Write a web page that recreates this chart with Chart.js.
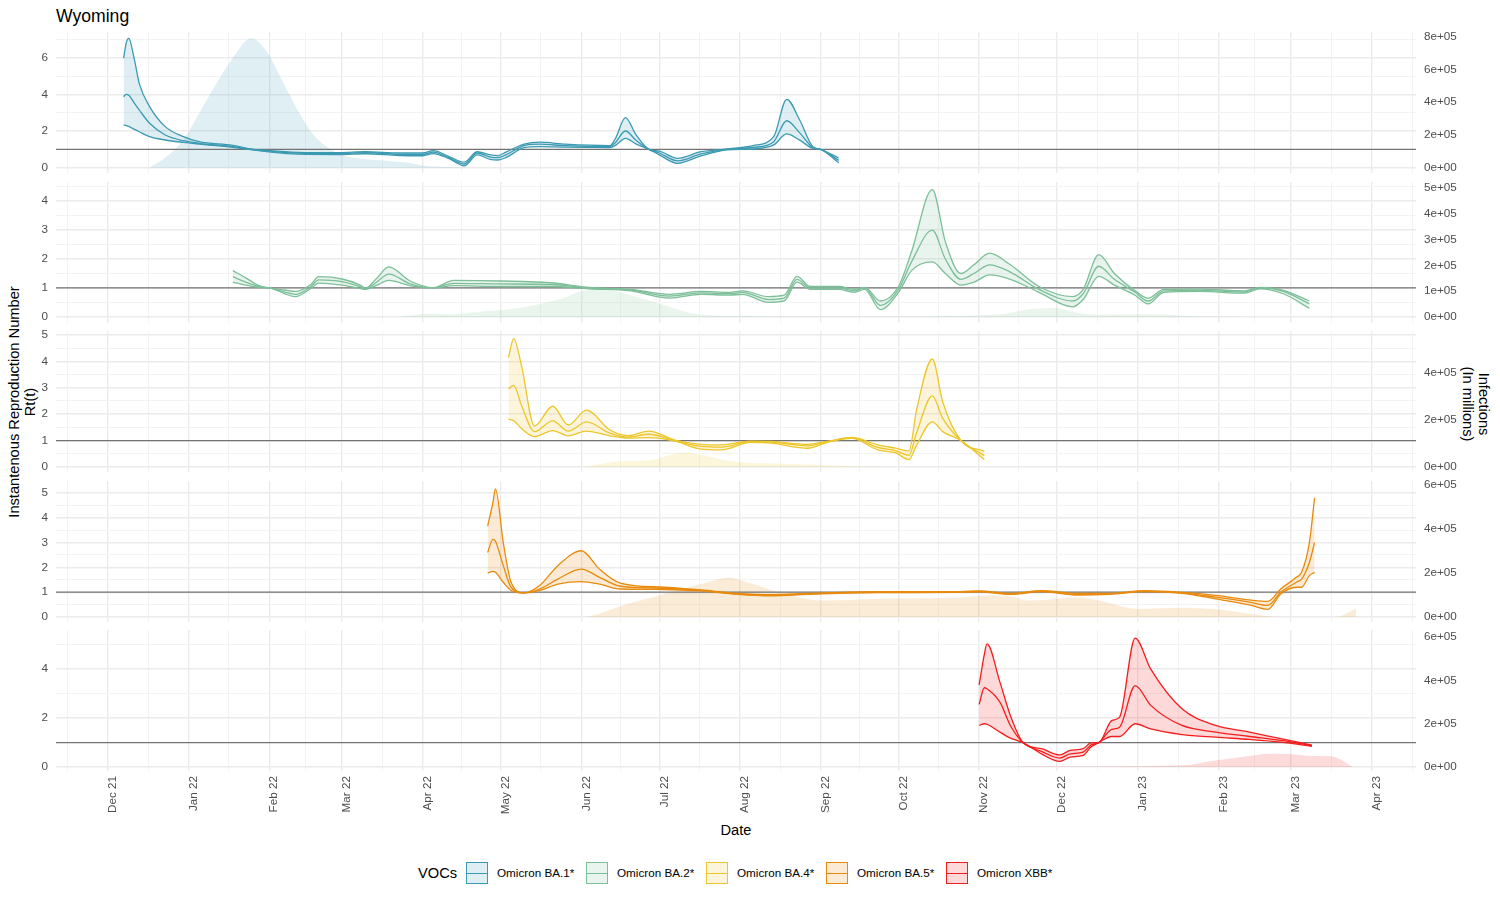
<!DOCTYPE html>
<html><head><meta charset="utf-8">
<script src="https://cdn.jsdelivr.net/npm/chart.js@4.4.0/dist/chart.umd.min.js"></script>
<style>
body{margin:0;background:#fff;}
#wrap{position:relative;width:1500px;height:900px;overflow:hidden;background:#fff;font-family:"Liberation Sans",Arial,Helvetica,sans-serif;color:#000;}
.abs{position:absolute;white-space:nowrap;}
</style></head><body>
<div id="wrap">
  <div class="abs" style="left:56px;top:6px;font-size:17.6px;">Wyoming</div>
  <div class="abs" style="left:22px;top:402px;transform:translate(-50%,-50%) rotate(-90deg);text-align:center;font-size:14.67px;line-height:16px;">Instantenous Reproduction Number<br>Rt(t)</div>
  <div class="abs" style="left:1476px;top:404px;transform:translate(-50%,-50%) rotate(90deg);text-align:center;font-size:14.67px;line-height:16px;">Infections<br>(In millions)</div>
  <div class="abs" style="left:736px;top:830px;transform:translate(-50%,-50%);font-size:14.67px;">Date</div>
  <div id="legend"></div>
</div>
<script>
// ---------- tick labels ----------
const tickDates = ["2021-12-01","2022-01-01","2022-02-01","2022-03-01","2022-04-01","2022-05-01","2022-06-01","2022-07-01","2022-08-01","2022-09-01","2022-10-01","2022-11-01","2022-12-01","2023-01-01","2023-02-01","2023-03-01","2023-04-01"];
const tickLabels = ["Dec 21","Jan 22","Feb 22","Mar 22","Apr 22","May 22","Jun 22","Jul 22","Aug 22","Sep 22","Oct 22","Nov 22","Dec 22","Jan 23","Feb 23","Mar 23","Apr 23"];
const xStartDate = "2021-11-11", xEndDate = "2023-04-18";
const variantNames = ["Omicron BA.1*","Omicron BA.2*","Omicron BA.4*","Omicron BA.5*","Omicron XBB*"];

// ---------- Omicron BA.1 ----------
const ba1Dates = ["2021-12-07","2021-12-08","2021-12-09","2021-12-11","2021-12-13","2021-12-17","2021-12-23","2021-12-30","2022-01-05","2022-01-18","2022-01-24","2022-02-01","2022-02-12","2022-02-28","2022-03-10","2022-03-23","2022-04-01","2022-04-05","2022-04-11","2022-04-17","2022-04-22","2022-04-27","2022-04-30","2022-05-03","2022-05-10","2022-05-16","2022-05-26","2022-06-12","2022-06-14","2022-06-18","2022-06-22","2022-06-27","2022-07-01","2022-07-08","2022-07-17","2022-07-27","2022-08-06","2022-08-14","2022-08-19","2022-08-24","2022-08-29","2022-09-01","2022-09-08"];
const ba1Lower  = [2.33,2.3,2.25,2.1,1.96,1.69,1.51,1.38,1.29,1.11,1.0,0.86,0.74,0.72,0.76,0.66,0.65,0.77,0.5,0.1,0.7,0.45,0.42,0.55,1.09,1.15,1.12,1.1,1.2,1.6,1.3,1.0,0.7,0.24,0.64,0.97,1.02,1.24,1.84,1.5,1.06,1.0,0.27];
const ba1Median = [3.87,4.0,3.95,3.55,3.15,2.42,1.78,1.47,1.33,1.15,1.02,0.9,0.79,0.77,0.82,0.73,0.72,0.85,0.55,0.2,0.8,0.58,0.55,0.7,1.2,1.28,1.2,1.15,1.35,2.0,1.5,1.0,0.8,0.37,0.75,1.0,1.1,1.42,2.56,1.9,1.1,1.0,0.4];
const ba1Upper  = [5.97,6.8,7.05,6.0,4.6,3.33,2.24,1.69,1.42,1.22,1.04,0.93,0.84,0.82,0.87,0.8,0.8,0.93,0.62,0.3,0.87,0.7,0.66,0.85,1.29,1.39,1.28,1.2,1.55,2.73,1.8,1.0,0.9,0.51,0.87,1.02,1.2,1.69,3.73,2.6,1.15,1.0,0.53];
const ba1InfDates = ["2021-12-17","2021-12-23","2021-12-30","2022-01-05","2022-01-11","2022-01-18","2022-01-25","2022-01-31","2022-02-06","2022-02-12","2022-02-18","2022-02-25","2022-03-04","2022-03-16","2022-03-27","2022-04-01","2022-04-08","2022-04-15","2022-04-21"];
const ba1Infections = [0,60000,170000,330000,495000,670000,790000,710000,530000,350000,200000,110000,65000,45000,28000,14000,5000,2000,0];

// ---------- Omicron BA.2 ----------
const ba2Dates = ["2022-01-18","2022-01-23","2022-01-28","2022-02-01","2022-02-07","2022-02-11","2022-02-17","2022-02-20","2022-03-01","2022-03-08","2022-03-10","2022-03-14","2022-03-19","2022-03-27","2022-04-05","2022-04-13","2022-05-01","2022-05-20","2022-06-04","2022-06-20","2022-07-05","2022-07-17","2022-07-28","2022-08-02","2022-08-12","2022-08-18","2022-08-23","2022-08-28","2022-09-08","2022-09-14","2022-09-18","2022-09-24","2022-10-01","2022-10-06","2022-10-14","2022-10-19","2022-10-25","2022-10-30","2022-11-05","2022-11-13","2022-11-24","2022-12-07","2022-12-11","2022-12-17","2022-12-23","2022-12-31","2023-01-05","2023-01-11","2023-01-25","2023-02-11","2023-02-17","2023-02-26","2023-03-08"];
const ba2Lower  = [1.2,1.1,1.02,1.0,0.8,0.7,0.98,1.17,1.1,0.98,0.95,1.08,1.26,1.08,1.0,1.08,1.05,1.05,0.97,0.9,0.65,0.78,0.75,0.78,0.5,0.55,1.2,0.95,0.95,0.85,0.95,0.25,0.85,1.6,1.9,1.5,1.1,1.2,1.45,1.3,0.85,0.35,0.6,1.4,1.1,0.75,0.45,0.85,0.88,0.82,0.97,0.8,0.3];
const ba2Median = [1.39,1.2,1.05,1.0,0.86,0.78,1.05,1.28,1.22,1.04,0.97,1.18,1.48,1.15,1.0,1.16,1.14,1.12,1.0,0.93,0.72,0.83,0.8,0.85,0.6,0.65,1.3,1.0,1.0,0.9,1.0,0.4,0.95,1.9,3.0,2.0,1.3,1.5,1.8,1.55,0.95,0.55,0.8,1.75,1.3,0.85,0.55,0.9,0.92,0.86,1.0,0.88,0.45];
const ba2Upper  = [1.6,1.35,1.08,1.0,0.93,0.88,1.12,1.39,1.31,1.1,0.99,1.3,1.73,1.25,1.01,1.26,1.24,1.18,1.02,0.95,0.78,0.88,0.85,0.9,0.7,0.75,1.4,1.05,1.05,0.95,1.02,0.55,1.05,2.25,4.4,2.6,1.5,1.8,2.2,1.8,1.05,0.7,0.95,2.15,1.5,0.9,0.65,0.95,0.96,0.9,1.02,0.92,0.55];
const ba2InfDates = ["2022-03-23","2022-04-04","2022-04-11","2022-04-23","2022-05-08","2022-05-24","2022-06-04","2022-06-14","2022-06-23","2022-07-03","2022-07-13","2022-07-25","2022-10-01","2022-11-09","2022-11-20","2022-12-01","2022-12-07","2022-12-17","2023-01-05","2023-01-25","2023-02-13"];
const ba2Infections = [0,12000,10000,20000,35000,70000,105000,100000,75000,45000,15000,5000,2000,10000,30000,35000,20000,8000,10000,2000,0];

// ---------- Omicron BA.4 ----------
const ba4Dates = ["2022-05-04","2022-05-06","2022-05-09","2022-05-14","2022-05-21","2022-05-27","2022-06-03","2022-06-12","2022-06-19","2022-06-27","2022-07-07","2022-07-17","2022-07-25","2022-08-05","2022-08-13","2022-08-27","2022-09-04","2022-09-13","2022-09-23","2022-09-30","2022-10-05","2022-10-08","2022-10-14","2022-10-18","2022-10-25","2022-11-03"];
const ba4Lower  = [1.81,1.75,1.46,1.15,1.38,1.18,1.36,1.18,1.09,1.11,0.98,0.68,0.65,0.93,0.9,0.71,0.94,1.08,0.65,0.53,0.28,0.84,1.71,1.34,1.0,0.28];
const ba4Median = [2.96,3.09,2.34,1.34,1.75,1.36,1.71,1.28,1.13,1.24,1.0,0.78,0.75,0.96,0.94,0.8,0.96,1.1,0.74,0.61,0.44,1.31,2.69,1.84,1.0,0.43];
const ba4Upper  = [4.15,4.86,3.84,1.55,2.3,1.59,2.15,1.4,1.19,1.36,1.02,0.86,0.84,0.98,0.97,0.86,0.98,1.12,0.84,0.71,0.61,2.19,4.09,2.46,1.0,0.59];
const ba4InfDates = ["2022-06-02","2022-06-16","2022-06-24","2022-06-30","2022-07-05","2022-07-11","2022-07-17","2022-07-24","2022-07-31","2022-08-13","2022-08-27","2022-09-09","2022-09-23","2022-10-05"];
const ba4Infections = [0,24000,27000,34000,52000,62000,52000,34000,21000,15000,11000,4000,1000,0];

// ---------- Omicron BA.5 ----------
const ba5Dates = ["2022-04-26","2022-04-28","2022-04-29","2022-05-02","2022-05-05","2022-05-10","2022-05-16","2022-05-23","2022-06-01","2022-06-08","2022-06-16","2022-07-03","2022-07-17","2022-07-31","2022-08-13","2022-08-27","2022-09-23","2022-10-21","2022-11-01","2022-11-13","2022-11-25","2022-12-09","2022-12-21","2023-01-04","2023-01-18","2023-01-31","2023-02-13","2023-02-20","2023-02-25","2023-03-03","2023-03-05","2023-03-08","2023-03-10"];
const ba5Lower  = [1.77,1.84,1.8,1.4,1.07,0.97,1.07,1.33,1.43,1.33,1.13,1.11,1.05,0.91,0.85,0.91,0.98,0.99,1.01,0.91,1.02,0.88,0.91,1.02,0.95,0.73,0.49,0.31,0.93,1.2,1.2,1.67,1.8];
const ba5Median = [2.6,3.13,3.05,2.07,1.2,0.97,1.13,1.53,1.93,1.6,1.24,1.16,1.07,0.93,0.87,0.93,1.0,1.0,1.03,0.93,1.04,0.91,0.93,1.04,0.97,0.8,0.6,0.47,1.0,1.4,1.53,2.2,3.0];
const ba5Upper  = [3.67,4.6,5.16,3.0,1.4,0.97,1.27,2.07,2.67,1.93,1.37,1.2,1.09,0.95,0.9,0.95,1.02,1.02,1.05,0.95,1.06,0.95,0.95,1.06,0.99,0.87,0.69,0.63,1.13,1.6,1.8,3.0,4.8];
const ba5InfDates = ["2022-06-02","2022-06-05","2022-06-19","2022-07-03","2022-07-17","2022-07-28","2022-08-02","2022-08-10","2022-08-20","2022-09-03","2022-09-23","2022-10-21","2022-11-06","2022-11-15","2022-11-19","2022-11-28","2022-12-09","2022-12-17","2023-01-01","2023-01-18","2023-01-31","2023-02-13","2023-02-25","2023-03-18","2023-03-22","2023-03-26"];
const ba5Infections = [0,5000,60000,105000,150000,180000,165000,135000,98000,75000,83000,86000,98000,90000,75000,80000,90000,75000,37000,42000,35000,15000,0,0,15000,40000];

// ---------- Omicron XBB ----------
const xbbDates = ["2022-11-01","2022-11-03","2022-11-04","2022-11-09","2022-11-13","2022-11-18","2022-11-25","2022-12-02","2022-12-06","2022-12-11","2022-12-14","2022-12-17","2022-12-22","2022-12-25","2022-12-31","2023-01-06","2023-01-18","2023-01-31","2023-02-13","2023-02-25","2023-03-09"];
const xbbLower  = [1.7,1.77,1.75,1.43,1.18,0.99,0.54,0.23,0.41,0.48,0.82,1.0,1.25,1.25,1.77,1.56,1.33,1.22,1.13,1.02,0.85];
const xbbMedian = [2.56,3.24,3.2,2.65,1.7,0.99,0.64,0.37,0.54,0.61,0.9,1.0,1.54,1.63,3.33,2.52,1.7,1.43,1.25,1.09,0.88];
const xbbUpper  = [3.36,4.6,5.03,3.47,2.11,0.99,0.75,0.5,0.68,0.75,0.99,1.0,1.9,2.04,5.27,4.0,2.38,1.7,1.43,1.16,0.9];
const xbbInfDates = ["2022-11-13","2022-11-20","2022-12-17","2023-01-06","2023-01-18","2023-01-31","2023-02-13","2023-02-20","2023-02-28","2023-03-09","2023-03-16","2023-03-20","2023-03-24","2023-03-25"];
const xbbInfections = [0,3000,3000,5000,8000,31000,51000,62000,60000,51000,50000,35000,5000,0];

// ---------- helpers ----------
const FONT = '"Liberation Sans", Arial, Helvetica, sans-serif';
const TICK_COLOR = '#4d4d4d';
function day(s){ const p = s.split('-').map(Number); return (Date.UTC(p[0],p[1]-1,p[2]) - Date.UTC(2021,11,1)) / 86400000; }
function pts(dates, vals){ return dates.map((d,i)=>({x:day(d), y:vals[i]})); }
function rgba(hex, a){ const n=parseInt(hex.slice(1),16); return `rgba(${n>>16},${(n>>8)&255},${n&255},${a})`; }
function sci(v){ if (v === 0) return '0e+00'; const e = Math.floor(Math.log10(Math.abs(v))+1e-9); const m = Math.round(v/Math.pow(10,e)); return m+'e+'+String(e).padStart(2,'0'); }

const xMin = day(xStartDate), xMax = day(xEndDate);
const majorX = tickDates.map(day);
const xTicks = [];
majorX.forEach((v,i)=>{
  if (i === 0) xTicks.push({value: v - (majorX[1]-majorX[0])/2, major:false});
  xTicks.push({value:v, major:true});
  const next = i < majorX.length-1 ? majorX[i+1] : v + (v - majorX[i-1]);
  xTicks.push({value:(v+next)/2, major:false});
});
const xTickList = xTicks.filter(t => t.value >= xMin && t.value <= xMax);

const panels = [
  {color:'#3B9AB2', dates:ba1Dates, lower:ba1Lower, median:ba1Median, upper:ba1Upper, infDates:ba1InfDates, inf:ba1Infections,
   top:32, yMin:-0.29, yMax:7.4, yStep:1, yMajor:2, rMin:-32500, rMax:828000, rTicks:[0,200000,400000,600000,800000]},
  {color:'#7CBF98', dates:ba2Dates, lower:ba2Lower, median:ba2Median, upper:ba2Upper, infDates:ba2InfDates, inf:ba2Infections,
   top:182, yMin:-0.21, yMax:4.66, yStep:0.5, yMajor:1, rMin:-23600, rMax:524000, rTicks:[0,100000,200000,300000,400000,500000]},
  {color:'#ECC62A', dates:ba4Dates, lower:ba4Lower, median:ba4Median, upper:ba4Upper, infDates:ba4InfDates, inf:ba4Infections,
   top:331, yMin:-0.19, yMax:5.15, yStep:0.5, yMajor:1, rMin:-21300, rMax:578000, rTicks:[0,200000,400000]},
  {color:'#E88A0C', dates:ba5Dates, lower:ba5Lower, median:ba5Median, upper:ba5Upper, infDates:ba5InfDates, inf:ba5Infections,
   top:481, yMin:-0.2, yMax:5.48, yStep:0.5, yMajor:1, rMin:-22500, rMax:618000, rTicks:[0,200000,400000,600000]},
  {color:'#F51C1C', dates:xbbDates, lower:xbbLower, median:xbbMedian, upper:xbbUpper, infDates:xbbInfDates, inf:xbbInfections,
   top:630, yMin:-0.16, yMax:5.6, yStep:1, yMajor:2, rMin:-18000, rMax:633000, rTicks:[0,200000,400000,600000]}
];
const PANEL_H = 141;
const wrap = document.getElementById('wrap');

function zeroPad(ax){ ax.paddingTop = 0; ax.paddingBottom = 0; ax.paddingLeft = 0; ax.paddingRight = 0; }

panels.forEach((p, idx) => {
  const isBottom = idx === panels.length - 1;
  const padTop = 8, padBottom = isBottom ? 0 : 8, xH = isBottom ? 60 : 0;
  const h = padTop + PANEL_H + padBottom + xH;
  const div = document.createElement('div');
  div.style.cssText = `position:absolute;left:0;top:${p.top - padTop}px;width:1500px;height:${h}px;`;
  const canvas = document.createElement('canvas');
  canvas.width = 1500; canvas.height = h;
  canvas.style.width = '1500px'; canvas.style.height = h + 'px';
  div.appendChild(canvas); wrap.appendChild(div);

  const yTicks = [];
  for (let v = 0; v <= p.yMax + 1e-9; v = Math.round((v + p.yStep)*1000)/1000) yTicks.push(v);
  const isMajorY = v => Math.abs(v/p.yMajor - Math.round(v/p.yMajor)) < 1e-6;
  const lw = 1.3;

  new Chart(canvas, {
    type: 'line',
    data: { datasets: [
      {data: pts(p.dates, p.upper), yAxisID:'y', borderColor:p.color, borderWidth:lw, pointRadius:0,
       fill:{target:2, above:rgba(p.color,0.17), below:rgba(p.color,0.17)}, cubicInterpolationMode:'monotone'},
      {data: pts(p.dates, p.median), yAxisID:'y', borderColor:p.color, borderWidth:lw, pointRadius:0, fill:false, cubicInterpolationMode:'monotone'},
      {data: pts(p.dates, p.lower), yAxisID:'y', borderColor:p.color, borderWidth:lw, pointRadius:0, fill:false, cubicInterpolationMode:'monotone'},
      {data: [{x:xMin,y:1},{x:xMax,y:1}], yAxisID:'y', borderColor:'#737373', borderWidth:1.3, pointRadius:0, fill:false},
      {data: pts(p.infDates, p.inf), yAxisID:'yR', borderWidth:0, borderColor:'rgba(0,0,0,0)', backgroundColor:rgba(p.color,0.16), pointRadius:0,
       fill:'origin', cubicInterpolationMode:'monotone'}
    ]},
    options: {
      responsive:false, animation:false, devicePixelRatio:1,
      layout:{padding:{top:padTop, bottom:padBottom, left:0, right:0}},
      plugins:{legend:{display:false}, tooltip:{enabled:false}, filler:{drawTime:'beforeDatasetsDraw', propagate:false}},
      scales:{
        x:{type:'linear', min:xMin, max:xMax, offset:false,
           afterBuildTicks: ax => { ax.ticks = xTickList.map(t => ({value:t.value, major:t.major})); },
           ticks:{display:isBottom, autoSkip:false, maxRotation:90, minRotation:90, color:TICK_COLOR, padding:5, labelOffset:5,
                  font:{family:FONT, size:11.7},
                  callback:(val) => { const i = majorX.findIndex(m => Math.abs(m-val) < 1e-6); return i >= 0 ? tickLabels[i] : ''; }},
           grid:{drawTicks:false, color: c => (c.tick && c.tick.major) ? '#ebebeb' : '#f3f3f3', lineWidth: c => (c.tick && c.tick.major) ? 1.4 : 1},
           border:{display:false},
           afterFit: ax => { ax.height = xH; zeroPad(ax); }
        },
        y:{position:'left', min:p.yMin, max:p.yMax,
           afterBuildTicks: ax => { ax.ticks = yTicks.map(v => ({value:v})); },
           ticks:{autoSkip:false, color:TICK_COLOR, padding:8, font:{family:FONT, size:11.7},
                  callback: v => isMajorY(v) ? String(Math.round(v)) : ''},
           grid:{drawTicks:false, color: c => isMajorY(c.tick ? c.tick.value : 0) ? '#ebebeb' : '#f3f3f3', lineWidth: c => isMajorY(c.tick ? c.tick.value : 0) ? 1.4 : 1},
           border:{display:false},
           afterFit: ax => { ax.width = 56; zeroPad(ax); }
        },
        yR:{position:'right', min:p.rMin, max:p.rMax,
           afterBuildTicks: ax => { ax.ticks = p.rTicks.map(v => ({value:v})); },
           ticks:{autoSkip:false, color:TICK_COLOR, padding:8, font:{family:FONT, size:11.7}, callback: v => sci(v)},
           grid:{display:false, drawOnChartArea:false, drawTicks:false},
           border:{display:false},
           afterFit: ax => { ax.width = 84; zeroPad(ax); }
        }
      }
    }
  });
});

// ---------- legend (HTML) ----------
const legend = document.getElementById('legend');
const lt = document.createElement('div');
lt.className = 'abs'; lt.style.cssText += 'left:418px;top:865px;font-size:14.67px;line-height:16px;';
lt.textContent = 'VOCs'; legend.appendChild(lt);
panels.forEach((p, i) => {
  const x = 466 + i*120;
  const key = document.createElement('div');
  key.style.cssText = `position:absolute;left:${x}px;top:862px;width:20px;height:20px;border:1.5px solid ${p.color};background:${rgba(p.color,0.17)};`;
  const ln = document.createElement('div');
  ln.style.cssText = `position:absolute;left:0;top:9.5px;width:20px;height:1.3px;background:${p.color};`;
  key.appendChild(ln); legend.appendChild(key);
  const lab = document.createElement('div');
  lab.className = 'abs';
  lab.style.cssText += `left:${x+31}px;top:866px;font-size:11.7px;line-height:14px;`;
  lab.textContent = variantNames[i];
  legend.appendChild(lab);
});
</script>
</body></html>
